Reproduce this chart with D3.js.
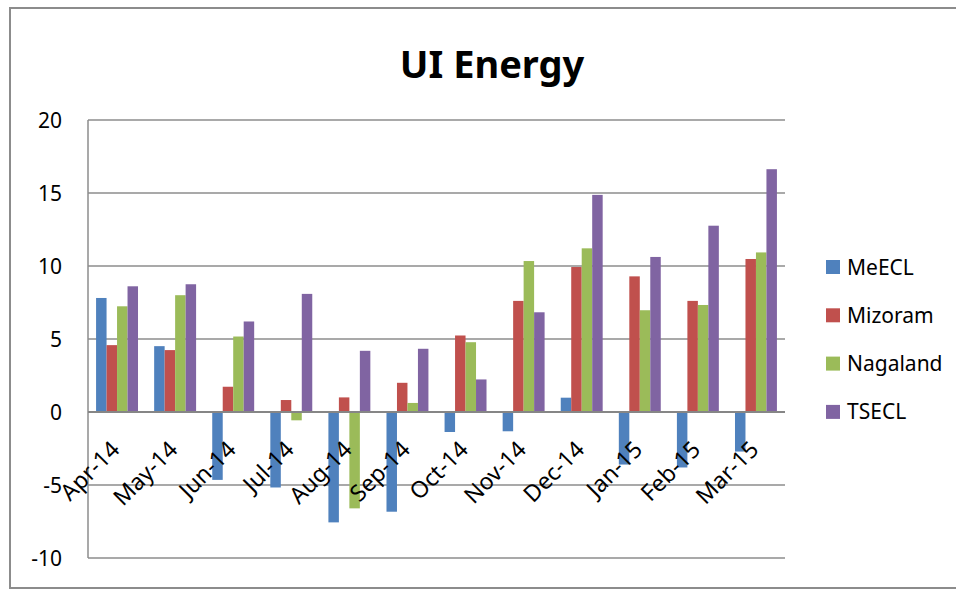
<!DOCTYPE html>
<html>
<head>
<meta charset="utf-8">
<script src="https://cdn.jsdelivr.net/npm/d3@7"></script>
<style>
  body { margin: 0; background: #fff; }
  text { font-family: "Noto Sans", sans-serif; fill: #000; }
</style>
</head>
<body>
<svg id="chart" width="956" height="589"></svg>
<script>
const months = ['Apr-14', 'May-14', 'Jun-14', 'Jul-14', 'Aug-14', 'Sep-14', 'Oct-14', 'Nov-14', 'Dec-14', 'Jan-15', 'Feb-15', 'Mar-15'];
const series_names = ['MeECL', 'Mizoram', 'Nagaland', 'TSECL'];
const series_colors = ['#4F81BD', '#C0504D', '#9BBB59', '#8064A2'];

const meecl = [7.81, 4.51, -4.65, -5.17, -7.56, -6.83, -1.37, -1.32, 0.98, -3.6, -3.8, -2.71];
const mizoram = [4.58, 4.24, 1.73, 0.82, 1.0, 2.0, 5.24, 7.61, 9.93, 9.29, 7.61, 10.48];
const nagaland = [7.24, 8.0, 5.17, -0.57, -6.6, 0.62, 4.78, 10.34, 11.21, 6.97, 7.33, 10.93];
const tsecl = [8.61, 8.75, 6.2, 8.09, 4.19, 4.33, 2.23, 6.83, 14.87, 10.62, 12.76, 16.63];

const y_ticks = [20, 15, 10, 5, 0, -5, -10];
const y_tick_labels = ['20', '15', '10', '5', '0', '-5', '-10'];

const all_series = [meecl, mizoram, nagaland, tsecl];
const color_scale = d3.scaleOrdinal().domain(series_names).range(series_colors);

const svg = d3.select('#chart');

// chart border
svg.append('rect')
  .attr('x', 10).attr('y', 8)
  .attr('width', 960).attr('height', 580)
  .attr('fill', 'none')
  .attr('stroke', '#8c8c8c')
  .attr('stroke-width', 2);

const plot = { left: 88, right: 785, top: 120, bottom: 558 };

const x0 = d3.scaleBand().domain(months).range([plot.left, plot.right]);
const x1 = d3.scaleBand().domain(series_names).range([0, x0.bandwidth()]).paddingOuter(0.77);
const y = d3.scaleLinear().domain([-10, 20]).range([plot.bottom, plot.top]);

// gridlines
svg.append('g')
  .selectAll('line')
  .data(y_ticks)
  .enter()
  .append('line')
  .attr('x1', plot.left).attr('x2', plot.right)
  .attr('y1', d => y(d)).attr('y2', d => y(d))
  .attr('stroke', '#8c8c8c')
  .attr('stroke-width', 1.5);

// left axis line
svg.append('line')
  .attr('x1', plot.left).attr('x2', plot.left)
  .attr('y1', plot.top).attr('y2', plot.bottom)
  .attr('stroke', '#8c8c8c')
  .attr('stroke-width', 1.5);

// y labels
svg.append('g')
  .selectAll('text')
  .data(y_ticks)
  .enter()
  .append('text')
  .attr('x', 62)
  .attr('y', d => y(d))
  .attr('dy', '0.36em')
  .attr('text-anchor', 'end')
  .style('font-size', '21px')
  .text((d, i) => y_tick_labels[i]);

// bars
const bar_data = [];
months.forEach((m, i) => {
  series_names.forEach((s, j) => {
    bar_data.push({ month: m, series: s, value: all_series[j][i] });
  });
});

svg.append('g')
  .selectAll('rect')
  .data(bar_data)
  .enter()
  .append('rect')
  .attr('x', d => x0(d.month) + x1(d.series))
  .attr('width', x1.bandwidth())
  .attr('y', d => y(Math.max(0, d.value)))
  .attr('height', d => Math.abs(y(d.value) - y(0)))
  .attr('fill', d => color_scale(d.series));

// zero axis line
svg.append('line')
  .attr('x1', plot.left).attr('x2', plot.right)
  .attr('y1', y(0)).attr('y2', y(0))
  .attr('stroke', '#868686')
  .attr('stroke-width', 2);

// x labels (rotated)
svg.append('g')
  .selectAll('text')
  .data(months)
  .enter()
  .append('text')
  .attr('transform', d => `translate(${x0(d) + x0.bandwidth() / 2 + 4},${y(0) + 39}) rotate(-45)`)
  .attr('text-anchor', 'end')
  .style('font-size', '23px')
  .text(d => d);

// title
svg.append('text')
  .attr('x', 492)
  .attr('y', 78)
  .attr('text-anchor', 'middle')
  .style('font-size', '38px')
  .style('font-weight', 'bold')
  .text('UI Energy');

// legend
const legend = svg.append('g').attr('transform', 'translate(826,267)');
const legend_items = legend.selectAll('g')
  .data(series_names)
  .enter()
  .append('g')
  .attr('transform', (d, i) => `translate(0,${i * 48.3})`);

legend_items.append('rect')
  .attr('x', 0).attr('y', -7)
  .attr('width', 14).attr('height', 14)
  .attr('fill', d => color_scale(d));

legend_items.append('text')
  .attr('x', 21)
  .attr('y', 0)
  .attr('dy', '0.36em')
  .style('font-size', '21px')
  .text(d => d);
</script>
</body>
</html>
